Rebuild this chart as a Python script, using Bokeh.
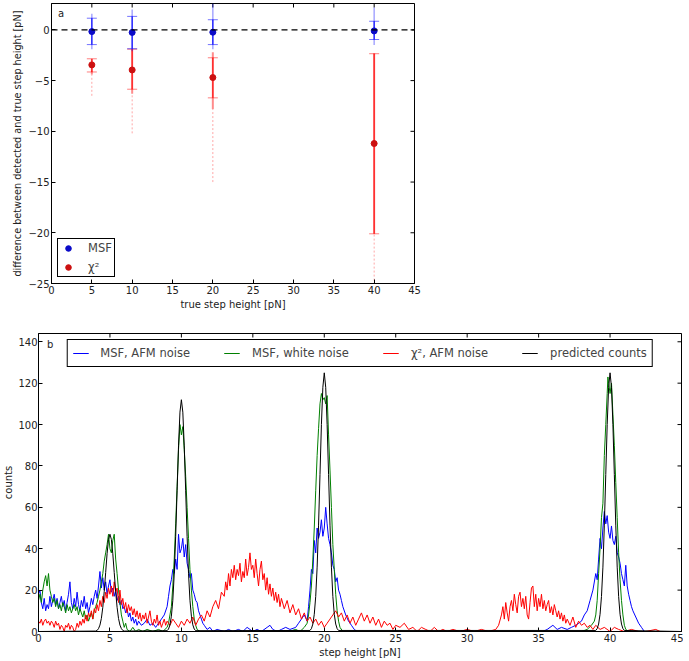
from bokeh.plotting import figure
from bokeh.layouts import column
from bokeh.models import Span, Label, Legend, LegendItem, FixedTicker, Range1d
from bokeh.embed import file_html
from bokeh.resources import INLINE
import math

# ---------------- panel a data ----------------
true_step = [5, 10, 20, 40]
msf_mean = [-0.17, -0.25, -0.23, -0.10]
msf_sd_lo = [-1.45, -1.86, -1.45, -0.95]
msf_sd_hi = [1.15, 1.33, 1.00, 0.85]
msf_min = [-1.9, -2.1, -1.9, -1.5]
msf_max = [1.6, 2.0, 2.6, 2.2]

chi_mean = [-3.45, -3.95, -4.70, -11.20]
chi_sd_lo = [-4.15, -5.85, -6.70, -20.10]
chi_sd_hi = [-2.85, -1.90, -2.75, -2.35]
chi_dense_lo = [-4.4, -6.3, -7.8, -20.1]
chi_dense_hi = [-2.9, -1.9, -2.2, -2.3]
chi_min = [-6.5, -10.2, -15.0, -25.5]

# ---------------- panel b data ----------------
msf_afm_x = [0.0, 0.1, 0.2, 0.3, 0.4, 0.5, 0.6, 0.7, 0.8, 0.9, 1.0, 1.1, 1.2, 1.3, 1.4, 1.5, 1.6, 1.7, 1.8, 1.9,
             2.0, 2.1, 2.2, 2.3, 2.4, 2.5, 2.6, 2.7, 2.8, 2.9, 3.0, 3.1, 3.2, 3.3, 3.4, 3.5, 3.6, 3.7, 3.8, 3.9,
             4.0, 4.1, 4.2, 4.3, 4.4, 4.5, 4.6, 4.7, 4.8, 4.9, 5.0, 5.1, 5.2, 5.3, 5.4, 5.5, 5.6, 5.7, 5.8, 5.9,
             6.0, 6.1, 6.2, 6.3, 6.4, 6.5, 6.6, 6.7, 6.8, 6.9, 7.0, 7.2, 7.4, 7.6, 7.8, 8.0, 8.2, 8.4, 8.6, 8.8,
             9.0, 9.1, 9.2, 9.3, 9.4, 9.5, 9.6, 9.7, 9.8, 9.9, 10.0, 10.1, 10.2, 10.3, 10.4, 10.5, 10.6, 10.7, 10.8, 10.9,
             11.0, 11.1, 11.2, 11.3, 11.4, 11.5, 11.6, 11.8, 12.0, 12.2, 12.5, 13.0, 13.3, 13.6, 14.0, 14.3, 14.6, 15.0,
             15.3, 15.6, 16.0, 16.2, 16.4, 16.7, 17.0, 17.3, 17.6, 18.0, 18.2, 18.4, 18.6, 18.8, 18.9, 19.0, 19.1, 19.2,
             19.3, 19.4, 19.5, 19.6, 19.7, 19.8, 19.9, 20.0, 20.1, 20.2, 20.3, 20.4, 20.5, 20.6, 20.7, 20.8, 20.9, 21.0,
             21.1, 21.2, 21.3, 21.5, 21.7, 21.9, 22.1, 22.3, 23.0, 35.3, 35.6, 36.0, 36.3, 36.6, 37.0, 37.3, 37.6, 38.0,
             38.2, 38.4, 38.6, 38.8, 39.0, 39.1, 39.2, 39.3, 39.4, 39.5, 39.6, 39.7, 39.8, 39.9, 40.0, 40.1, 40.2, 40.3,
             40.4, 40.5, 40.6, 40.7, 40.8, 40.9, 41.0, 41.1, 41.2, 41.3, 41.4, 41.5, 41.6, 41.8, 42.0, 42.2, 42.4, 43.0]
msf_afm_y = [18, 20, 14, 11, 16, 10, 13, 11, 17, 12, 15, 18, 13, 16, 11, 14, 17, 12, 15, 10,
             14, 18, 24, 14, 11, 16, 12, 19, 13, 10, 15, 12, 17, 11, 14, 9, 12, 16, 13, 17,
             20, 16, 22, 29, 21, 26, 20, 24, 18, 22, 25, 19, 21, 17, 20, 15, 17, 13, 15, 11,
             12, 9, 11, 7, 9, 5, 7, 4, 6, 3, 5, 3, 4, 6, 3, 4, 2, 4, 6, 8,
             12, 17, 22, 25, 30, 28, 35, 30, 47, 38, 40, 45, 36, 42, 33, 30, 26, 28, 20, 18,
             15, 14, 10, 8, 6, 4, 3, 1, 2, 0, 1, 0, 1, 0, 1, 0, 2, 0,
             1, 0, 2, 3, 1, 0, 1, 2, 1, 2, 4, 6, 8, 5, 12, 20, 30, 28,
             44, 38, 50, 45, 48, 54, 46, 50, 60, 52, 45, 42, 38, 32, 30, 24, 26, 20,
             18, 15, 12, 8, 5, 3, 1, 0, 0, 0, 1, 3, 1, 2, 1, 2, 3, 5,
             8, 10, 15, 20, 28, 25, 35, 45, 40, 50, 58, 52, 56, 48, 45, 51, 44, 42,
             46, 38, 36, 33, 28, 25, 22, 32, 22, 18, 15, 12, 10, 7, 4, 2, 0, 0]

msf_white_x = [0.0, 0.1, 0.2, 0.3, 0.4, 0.5, 0.6, 0.7, 0.8, 0.9, 1.0, 1.1, 1.2, 1.3, 1.4, 1.5, 1.6, 1.7, 1.8, 1.9,
               2.0, 2.1, 2.2, 2.3, 2.4, 2.5, 2.6, 2.7, 2.8, 2.9, 3.0, 3.1, 3.2, 3.3, 3.4, 3.5, 3.6, 3.7, 3.8, 3.9,
               4.0, 4.1, 4.2, 4.3, 4.4, 4.5, 4.6, 4.7, 4.8, 4.9, 5.0, 5.1, 5.2, 5.3, 5.4, 5.5, 5.6, 5.7, 5.8, 5.9,
               6.0, 6.1, 6.2, 6.4, 6.6, 6.8, 7.0, 7.3, 7.6, 8.0, 8.4, 8.7, 9.0, 9.1, 9.2, 9.3, 9.4, 9.5, 9.6, 9.7,
               9.8, 9.9, 10.0, 10.1, 10.2, 10.3, 10.4, 10.5, 10.6, 10.7, 10.8, 10.9, 11.0, 11.1, 11.3, 12.0, 17.5, 18.0,
               18.3, 18.6, 18.8, 18.9, 19.0, 19.1, 19.2, 19.3, 19.4, 19.5, 19.6, 19.7, 19.8, 19.9, 20.0, 20.1, 20.2, 20.3,
               20.4, 20.5, 20.6, 20.7, 20.8, 20.9, 21.0, 21.1, 21.3, 22.0, 38.0, 38.4, 38.7, 38.9, 39.0, 39.1, 39.2, 39.3,
               39.4, 39.5, 39.6, 39.7, 39.8, 39.85, 39.9, 40.0, 40.1, 40.2, 40.3, 40.4, 40.5, 40.6, 40.7, 40.8, 40.9, 41.0,
               41.1, 41.3]
msf_white_y = [15, 18, 14, 20, 24, 27, 22, 28, 20, 17, 14, 16, 12, 15, 11, 13, 10, 14, 12, 9,
               13, 10, 12, 9, 11, 13, 10, 12, 8, 11, 9, 7, 10, 6, 8, 5, 7, 9, 6, 10,
               12, 14, 17, 20, 24, 28, 34, 38, 42, 47, 40, 38, 44, 47, 35, 28, 20, 14, 8, 5,
               2, 4, 1, 0, 2, 0, 1, 0, 1, 0, 1, 0, 2, 4, 8, 12, 22, 35, 52, 70,
               88, 100, 95, 99, 88, 75, 60, 45, 30, 20, 12, 6, 3, 1, 0, 0, 0, 1,
               0, 2, 4, 8, 14, 22, 35, 50, 68, 85, 98, 110, 115, 112, 113, 110, 114, 95,
               78, 60, 42, 30, 18, 10, 5, 2, 0, 0, 0, 1, 3, 5, 8, 15, 28, 40,
               55, 62, 85, 100, 115, 123, 120, 115, 120, 105, 90, 72, 55, 38, 25, 15, 8, 3,
               1, 0]

chi_afm_x = [0.0, 0.1, 0.2, 0.3, 0.4, 0.5, 0.6, 0.7, 0.8, 0.9, 1.0, 1.1, 1.2, 1.3, 1.4, 1.5, 1.6, 1.7, 1.8, 1.9,
             2.0, 2.1, 2.2, 2.3, 2.4, 2.5, 2.6, 2.7, 2.8, 2.9, 3.0, 3.1, 3.2, 3.3, 3.4, 3.5, 3.6, 3.7, 3.8, 3.9,
             4.0, 4.1, 4.2, 4.3, 4.4, 4.5, 4.6, 4.7, 4.8, 4.9, 5.0, 5.1, 5.2, 5.3, 5.4, 5.5, 5.6, 5.7, 5.8, 5.9,
             6.0, 6.1, 6.2, 6.3, 6.4, 6.5, 6.6, 6.7, 6.8, 6.9, 7.0, 7.1, 7.2, 7.3, 7.4, 7.5, 7.6, 7.7, 7.8, 7.9,
             8.0, 8.1, 8.2, 8.3, 8.4, 8.5, 8.6, 8.7, 8.8, 8.9, 9.0, 9.2, 9.4, 9.6, 9.8, 10.0, 10.2, 10.4, 10.6, 10.8,
             11.0, 11.2, 11.4, 11.6, 11.8, 12.0, 12.2, 12.4, 12.6, 12.8, 13.0, 13.1, 13.2, 13.3, 13.4, 13.5, 13.6, 13.7,
             13.8, 13.9, 14.0, 14.1, 14.2, 14.3, 14.4, 14.5, 14.6, 14.7, 14.8, 14.9, 15.0, 15.1, 15.2, 15.3, 15.4, 15.5,
             15.6, 15.7, 15.8, 15.9, 16.0, 16.1, 16.2, 16.3, 16.4, 16.5, 16.6, 16.7, 16.8, 16.9, 17.0, 17.2, 17.4, 17.6,
             17.8, 18.0, 18.2, 18.4, 18.6, 18.8, 19.0, 19.2, 19.4, 19.6, 19.8, 20.0, 20.2, 20.4, 20.6, 20.8, 21.0, 21.2,
             21.4, 21.6, 21.8, 22.0, 22.2, 22.4, 22.6, 22.8, 23.0, 23.2, 23.4, 23.6, 23.8, 24.0, 24.2, 24.4, 24.6, 24.8,
             25.0, 25.3, 25.6, 25.9, 26.2, 26.5, 26.8, 27.1, 27.4, 27.7, 28.0, 28.3, 28.6, 29.0, 29.5, 30.0, 30.5, 31.0,
             31.5, 32.0, 32.2, 32.4, 32.5, 32.6, 32.7, 32.8, 32.9, 33.0, 33.1, 33.2, 33.3, 33.4, 33.5, 33.6, 33.7, 33.8,
             33.9, 34.0, 34.1, 34.2, 34.3, 34.4, 34.5, 34.6, 34.7, 34.8, 34.9, 35.0, 35.1, 35.2, 35.3, 35.4, 35.5, 35.6,
             35.7, 35.8, 35.9, 36.0, 36.1, 36.2, 36.3, 36.4, 36.5, 36.6, 36.7, 36.8, 36.9, 37.0, 37.2, 37.4, 37.6, 37.8,
             38.0, 38.2, 38.4, 38.6, 38.8, 39.0, 39.3, 39.6, 40.0, 40.3, 40.6, 41.0, 41.5, 42.0, 42.5, 43.2, 43.5]
chi_afm_y = [5, 4, 6, 3, 5, 6, 4, 5, 3, 5, 4, 2, 5, 3, 4, 1, 3, 2, 0, 3,
             2, 4, 1, 3, 2, 0, 1, 4, 2, 5, 3, 6, 4, 8, 5, 9, 7, 10, 6, 11,
             9, 13, 10, 15, 12, 17, 14, 19, 16, 21, 18, 22, 17, 24, 19, 21, 14, 20, 13, 16,
             11, 14, 9, 13, 10, 12, 8, 11, 7, 10, 6, 9, 5, 8, 6, 9, 4, 7, 10, 5,
             3, 6, 4, 8, 3, 5, 2, 4, 6, 3, 5, 3, 6, 4, 2, 5, 3, 6, 4, 7,
             3, 6, 8, 5, 10, 7, 12, 15, 11, 19, 17, 24, 20, 28, 22, 30, 26, 32,
             25, 30, 27, 33, 24, 29, 26, 35, 27, 31, 38, 30, 32, 26, 35, 28, 22, 30,
             34, 25, 28, 20, 26, 18, 23, 17, 21, 15, 19, 14, 18, 12, 16, 11, 15, 9,
             13, 8, 11, 6, 9, 5, 7, 4, 6, 3, 5, 2, 4, 6, 8, 10, 7, 9,
             5, 8, 4, 7, 3, 6, 9, 5, 8, 4, 7, 3, 6, 2, 5, 3, 4, 1,
             3, 2, 4, 1, 2, 0, 2, 1, 0, 2, 0, 1, 0, 1, 0, 1, 0, 1,
             0, 1, 3, 8, 12, 6, 14, 9, 5, 12, 15, 10, 18, 13, 9, 17, 19, 12,
             16, 11, 17, 8, 6, 14, 21, 22, 12, 18, 10, 16, 12, 18, 11, 15, 10, 13,
             15, 9, 12, 8, 13, 10, 7, 10, 6, 9, 5, 8, 4, 6, 3, 7, 2, 5,
             3, 4, 2, 3, 1, 3, 1, 2, 0, 2, 1, 0, 1, 0, 0, 1, 0]

pred_x = [0.0, 4.0, 4.1, 4.2, 4.3, 4.4, 4.5, 4.6, 4.7, 4.8, 4.9, 5.0, 5.1, 5.2, 5.3, 5.4, 5.5, 5.6, 5.7, 5.8, 5.9, 6.0,
          9.0, 9.1, 9.2, 9.3, 9.4, 9.5, 9.6, 9.7, 9.8, 9.9, 10.0, 10.1, 10.2, 10.3, 10.4, 10.5, 10.6, 10.7, 10.8, 10.9, 11.0,
          19.0, 19.1, 19.2, 19.3, 19.4, 19.5, 19.6, 19.7, 19.8, 19.9, 20.0, 20.1, 20.2, 20.3, 20.4, 20.5, 20.6, 20.7, 20.8, 20.9, 21.0,
          39.0, 39.1, 39.2, 39.3, 39.4, 39.5, 39.6, 39.7, 39.8, 39.9, 40.0, 40.1, 40.2, 40.3, 40.4, 40.5, 40.6, 40.7, 40.8, 40.9, 41.0,
          45.0]
pred_y = [0, 0.2, 0.5, 1.4, 3.1, 6.3, 11.7, 19.3, 28.5, 37.6, 44.5, 47, 44.5, 37.6, 28.5, 19.3, 11.7, 6.3, 3.1, 1.4, 0.5, 0.2,
          0.4, 1.2, 3.2, 7.4, 15.1, 27.9, 46, 68, 89.7, 106, 112, 106, 89.7, 68, 46, 27.9, 15.1, 7.4, 3.2, 1.2, 0.4,
          0.5, 1.4, 3.6, 8.3, 16.9, 31.1, 51.4, 75.9, 100, 118, 125, 118, 100, 75.9, 51.4, 31.1, 16.9, 8.3, 3.6, 1.4, 0.5,
          0.5, 1.4, 3.6, 8.3, 16.9, 31.1, 51.4, 75.9, 100, 118, 125, 118, 100, 75.9, 51.4, 31.1, 16.9, 8.3, 3.6, 1.4, 0.5,
          0]

x_ticks = [0, 5, 10, 15, 20, 25, 30, 35, 40, 45]
a_y_ticks = [-25, -20, -15, -10, -5, 0]
b_y_ticks = [0, 20, 40, 60, 80, 100, 120, 140]

series_labels = ["MSF, AFM noise", "MSF, white noise", "\u03c7\u00b2, AFM noise", "predicted counts"]
series_colors = ["#0000ff", "#008000", "#ff0000", "#000000"]

FONT = "DejaVu Sans"
TICK_FS = "10px"
LABEL_FS = "10px"
BLUE_DOT = "#0a0ac8"
RED_DOT = "#cc1010"


def style_axes(p, xticks, yticks, xr, yr, ylabel_minus=False):
    for ax in p.xaxis + p.yaxis:
        ax.major_tick_in = 4
        ax.major_tick_out = 0
        ax.minor_tick_line_color = None
        ax.axis_line_color = "black"
        ax.major_tick_line_color = "black"
        ax.major_label_text_font = FONT
        ax.major_label_text_font_size = TICK_FS
        ax.major_label_text_color = "#222222"
        ax.major_label_standoff = 2
        ax.axis_label_text_font = FONT
        ax.axis_label_text_font_size = LABEL_FS
        ax.axis_label_text_font_style = "normal"
        ax.axis_label_text_color = "#222222"
        ax.axis_label_standoff = 2
    p.xaxis.ticker = FixedTicker(ticks=xticks)
    p.yaxis.ticker = FixedTicker(ticks=yticks)
    if ylabel_minus:
        p.yaxis.major_label_overrides = {t: ("\u2212" + str(-t) if t < 0 else str(t)) for t in yticks}
    # inward tick marks on the top and right frame edges (half of each dash is clipped by the frame)
    p.scatter(x=xticks, y=[yr[1]] * len(xticks), marker="dash", angle=math.pi / 2, size=8,
              line_color="black", line_width=1)
    p.scatter(x=[xr[1]] * len(yticks), y=yticks, marker="dash", size=8,
              line_color="black", line_width=1)
    p.xgrid.grid_line_color = None
    p.ygrid.grid_line_color = None
    p.outline_line_color = "black"
    p.outline_line_alpha = 1
    p.background_fill_color = "white"
    p.border_fill_color = "white"


# ---------------- panel a ----------------
a_xr = (0, 45)
a_yr = (-25, 2.6)
p1 = figure(width=430, height=312, output_backend="svg", toolbar_location=None,
            x_range=Range1d(*a_xr), y_range=Range1d(*a_yr), frame_align=False,
            min_border_left=51, min_border_right=16, min_border_top=3, min_border_bottom=28,
            x_axis_label="true step height [pN]",
            y_axis_label="difference between detected and true step height [pN]")
style_axes(p1, x_ticks, a_y_ticks, a_xr, a_yr, ylabel_minus=True)
p1.yaxis.axis_label_text_font_size = "9.7px"

p1.add_layout(Span(location=0, dimension="width", line_color="black", line_dash="6 4", line_width=1.2))

# chi2: faint scatter range, dense band, errorbar + caps, mean
p1.segment(x0=true_step, y0=chi_min, x1=true_step, y1=chi_dense_lo, line_color="red",
           line_alpha=0.35, line_width=1, line_dash="2 2")
p1.segment(x0=true_step, y0=chi_dense_lo, x1=true_step, y1=chi_dense_hi, line_color="red",
           line_alpha=0.45, line_width=2)
p1.segment(x0=true_step, y0=chi_sd_lo, x1=true_step, y1=chi_sd_hi, line_color="red",
           line_alpha=0.8, line_width=1.3)
p1.scatter(x=true_step + true_step, y=chi_sd_lo + chi_sd_hi, marker="dash", size=10,
           line_color="red", line_alpha=0.5, line_width=1)
# msf
p1.segment(x0=true_step, y0=msf_min, x1=true_step, y1=msf_max, line_color="blue",
           line_alpha=0.35, line_width=1.5)
p1.segment(x0=true_step, y0=msf_sd_lo, x1=true_step, y1=msf_sd_hi, line_color="blue",
           line_alpha=0.85, line_width=1.3)
p1.scatter(x=true_step + true_step, y=msf_sd_lo + msf_sd_hi, marker="dash", size=10,
           line_color="blue", line_alpha=0.55, line_width=1)

msf_r = p1.scatter(x=true_step, y=msf_mean, size=6, fill_color=BLUE_DOT, line_color=BLUE_DOT)
chi_r = p1.scatter(x=true_step, y=chi_mean, size=6, fill_color=RED_DOT, line_color=RED_DOT)

leg1 = Legend(items=[LegendItem(label="MSF", renderers=[msf_r]),
                     LegendItem(label="\u03c7\u00b2", renderers=[chi_r])],
              location="bottom_left", margin=6, padding=2, spacing=5,
              glyph_width=16, glyph_height=14, label_height=14, label_standoff=12,
              label_text_font=FONT, label_text_font_size="11.5px",
              border_line_color="black", border_line_width=1, border_line_alpha=1,
              background_fill_alpha=1)
p1.add_layout(leg1)
p1.add_layout(Label(x=0.8, y=1.6, text="a", text_font=FONT, text_font_size="10px",
                    text_baseline="middle", text_color="#222222"))

# ---------------- panel b ----------------
b_xr = (0, 45)
b_yr = (0, 144)
p2 = figure(width=683, height=348, output_backend="svg", toolbar_location=None,
            x_range=Range1d(*b_xr), y_range=Range1d(*b_yr), frame_align=False,
            min_border_left=34, min_border_right=2, min_border_top=21, min_border_bottom=26,
            x_axis_label="step height [pN]", y_axis_label="counts")
style_axes(p2, x_ticks, b_y_ticks, b_xr, b_yr)
p2.yaxis.major_label_standoff = 1
p2.yaxis.axis_label_standoff = 1

series = [(msf_afm_x, msf_afm_y), (msf_white_x, msf_white_y), (chi_afm_x, chi_afm_y), (pred_x, pred_y)]
items = []
for (xs, ys), lab, col in zip(series, series_labels, series_colors):
    r = p2.line(xs, ys, line_color=col, line_width=1)
    items.append(LegendItem(label=lab, renderers=[r]))

leg2 = Legend(items=items,
              location="top_center", orientation="horizontal", margin=6, padding=5, spacing=34,
              glyph_width=16, glyph_height=16, label_height=16, label_standoff=12,
              label_text_font=FONT, label_text_font_size="11.5px",
              border_line_color="black", border_line_width=1, border_line_alpha=1,
              background_fill_alpha=1)
p2.add_layout(leg2)
p2.add_layout(Label(x=0.6, y=138.7, text="b", text_font=FONT, text_font_size="10px",
                    text_baseline="middle", text_color="#222222"))

layout = column(p1, p2, spacing=0)
open("out.html", "w").write(file_html(layout, INLINE))
